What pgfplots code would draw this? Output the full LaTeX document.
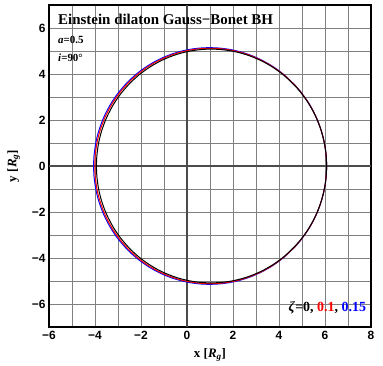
\documentclass[border=0pt]{standalone}
\usepackage{fontspec}
\setmainfont{Liberation Serif}
\newfontfamily\ticksans{Liberation Sans}
\usepackage{pgfplots}
\pgfplotsset{compat=1.18}

\begin{document}
\begin{tikzpicture}
\begin{axis}[
  scale only axis,
  width=322bp, height=322bp,
  xmin=-6, xmax=8, ymin=-7, ymax=7,
  xtick={-6,-4,...,8}, ytick={-6,-4,...,6},
  xticklabels={−6,−4,−2,0,2,4,6,8},
  yticklabels={−6,−4,−2,0,2,4,6},
  minor tick num=1,
  grid=both,
  major grid style={draw=black!50, line width=0.9pt},
  minor grid style={draw=black!50, line width=0.9pt},
  major tick length=0pt, minor tick length=0pt,
  tick label style={font=\fontsize{12}{13}\selectfont\ticksans\bfseries},
  xticklabel style={yshift=-1pt},
  axis line style={line width=1.2pt, black},
  xlabel={\textbf{x [\textit{R}\textsubscript{\textit{g}}]}},
  ylabel={\textbf{y [\textit{R}\textsubscript{\textit{g}}]}},
  label style={font=\fontsize{13}{14}\selectfont},
  xlabel style={yshift=-2pt},
  ylabel style={yshift=5pt},
  clip mode=individual,
  every axis plot/.append style={line width=1pt, smooth, tension=0.5},
]
% coordinate axes through the origin
\addplot[black!70, line width=1.1pt, sharp plot, forget plot] coordinates {(-6,0) (8,0)};
\addplot[black!70, line width=1.1pt, sharp plot, forget plot] coordinates {(0,-7) (0,7)};

% zeta = 0.15
\addplot[blue] coordinates {
(-4.062,0) (-4.043,0.446) (-3.974,0.964) (-3.903,1.285) (-3.833,1.537) (-3.692,1.939)
(-3.551,2.263) (-3.337,2.664) (-3.193,2.893) (-2.977,3.196) (-2.610,3.617) (-2.239,3.965)
(-1.861,4.254) (-1.477,4.496) (-1.085,4.696) (-0.687,4.857) (-0.281,4.982) (0.133,5.072)
(0.555,5.126) (0.983,5.144) (1.421,5.125) (1.865,5.066) (2.320,4.963) (2.781,4.811)
(3.252,4.603) (3.732,4.327) (4.219,3.967) (4.716,3.493) (4.917,3.259) (5.222,2.843)
(5.426,2.504) (5.528,2.308) (5.631,2.087) (5.735,1.833) (5.839,1.531) (5.943,1.139)
(5.996,0.875) (6.048,0.476) (6.070,0)
(6.048,-0.476) (5.996,-0.875) (5.943,-1.139) (5.839,-1.531) (5.735,-1.833) (5.631,-2.087)
(5.528,-2.308) (5.426,-2.504) (5.222,-2.843) (4.917,-3.259) (4.716,-3.493) (4.219,-3.967)
(3.732,-4.327) (3.252,-4.603) (2.781,-4.811) (2.320,-4.963) (1.865,-5.066) (1.421,-5.125)
(0.983,-5.144) (0.555,-5.126) (0.133,-5.072) (-0.281,-4.982) (-0.687,-4.857) (-1.085,-4.696)
(-1.477,-4.496) (-1.861,-4.254) (-2.239,-3.965) (-2.610,-3.617) (-2.977,-3.196) (-3.193,-2.893)
(-3.337,-2.664) (-3.551,-2.263) (-3.692,-1.939) (-3.833,-1.537) (-3.903,-1.285) (-3.974,-0.964)
(-4.043,-0.446) (-4.062,0)};

% zeta = 0.1
\addplot[red] coordinates {
(-4.010,0) (-3.992,0.443) (-3.923,0.959) (-3.853,1.279) (-3.783,1.530) (-3.643,1.930)
(-3.502,2.252) (-3.289,2.651) (-3.147,2.878) (-2.931,3.180) (-2.566,3.599) (-2.197,3.945)
(-1.821,4.233) (-1.439,4.473) (-1.049,4.672) (-0.653,4.832) (-0.249,4.957) (0.163,5.046)
(0.583,5.100) (1.009,5.118) (1.444,5.099) (1.887,5.040) (2.339,4.938) (2.798,4.787)
(3.267,4.579) (3.743,4.305) (4.228,3.947) (4.723,3.475) (4.922,3.243) (5.226,2.829)
(5.429,2.491) (5.531,2.296) (5.634,2.076) (5.737,1.824) (5.840,1.523) (5.944,1.134)
(5.996,0.871) (6.048,0.474) (6.070,0)
(6.048,-0.474) (5.996,-0.871) (5.944,-1.134) (5.840,-1.523) (5.737,-1.824) (5.634,-2.076)
(5.531,-2.296) (5.429,-2.491) (5.226,-2.829) (4.922,-3.243) (4.723,-3.475) (4.228,-3.947)
(3.743,-4.305) (3.267,-4.579) (2.798,-4.787) (2.339,-4.938) (1.887,-5.040) (1.444,-5.099)
(1.009,-5.118) (0.583,-5.100) (0.163,-5.046) (-0.249,-4.957) (-0.653,-4.832) (-1.049,-4.672)
(-1.439,-4.473) (-1.821,-4.233) (-2.197,-3.945) (-2.566,-3.599) (-2.931,-3.180) (-3.147,-2.878)
(-3.289,-2.651) (-3.502,-2.252) (-3.643,-1.930) (-3.783,-1.530) (-3.853,-1.279) (-3.923,-0.959)
(-3.992,-0.443) (-4.010,0)};

% zeta = 0
\addplot[black] coordinates {
(-3.939,0) (-3.920,0.440) (-3.852,0.953) (-3.782,1.269) (-3.713,1.519) (-3.574,1.916)
(-3.434,2.236) (-3.223,2.632) (-3.081,2.858) (-2.867,3.157) (-2.505,3.574) (-2.138,3.917)
(-1.765,4.202) (-1.385,4.441) (-0.998,4.639) (-0.605,4.798) (-0.204,4.921) (0.205,5.010)
(0.622,5.064) (1.045,5.082) (1.477,5.063) (1.916,5.004) (2.365,4.903) (2.821,4.753)
(3.287,4.547) (3.760,4.275) (4.241,3.919) (4.732,3.450) (4.931,3.220) (5.232,2.809)
(5.433,2.473) (5.535,2.280) (5.637,2.062) (5.739,1.811) (5.842,1.512) (5.945,1.126)
(5.997,0.865) (6.048,0.470) (6.070,0)
(6.048,-0.470) (5.997,-0.865) (5.945,-1.126) (5.842,-1.512) (5.739,-1.811) (5.637,-2.062)
(5.535,-2.280) (5.433,-2.473) (5.232,-2.809) (4.931,-3.220) (4.732,-3.450) (4.241,-3.919)
(3.760,-4.275) (3.287,-4.547) (2.821,-4.753) (2.365,-4.903) (1.916,-5.004) (1.477,-5.063)
(1.045,-5.082) (0.622,-5.064) (0.205,-5.010) (-0.204,-4.921) (-0.605,-4.798) (-0.998,-4.639)
(-1.385,-4.441) (-1.765,-4.202) (-2.138,-3.917) (-2.505,-3.574) (-2.867,-3.157) (-3.081,-2.858)
(-3.223,-2.632) (-3.434,-2.236) (-3.574,-1.916) (-3.713,-1.519) (-3.782,-1.269) (-3.852,-0.953)
(-3.920,-0.440) (-3.939,0)};

\node[anchor=north west, inner sep=0pt, font=\fontsize{15}{16}\selectfont\bfseries]
  at (rel axis cs:0.028,0.972) {Einstein dilaton Gauss−Bonet BH};
\node[anchor=north west, inner sep=0pt, font=\fontsize{11}{12}\selectfont\bfseries]
  at (rel axis cs:0.028,0.905) {\textit{a}=0.5};
\node[anchor=north west, inner sep=0pt, font=\fontsize{11}{12}\selectfont\bfseries]
  at (rel axis cs:0.028,0.848) {\textit{i}=90°};
\node[anchor=south east, inner sep=0pt, font=\fontsize{14}{15}\selectfont\bfseries]
  at (rel axis cs:0.985,0.04) {\textit{ζ}=0, \textcolor{red}{0.1}, \textcolor{blue}{0.15}};

% page extent around the axis
\path (rel axis cs:1,1) ++(12bp,5bp);
\path (rel axis cs:0,0) ++(-49bp,-39bp);
\end{axis}
\end{tikzpicture}
\end{document}
